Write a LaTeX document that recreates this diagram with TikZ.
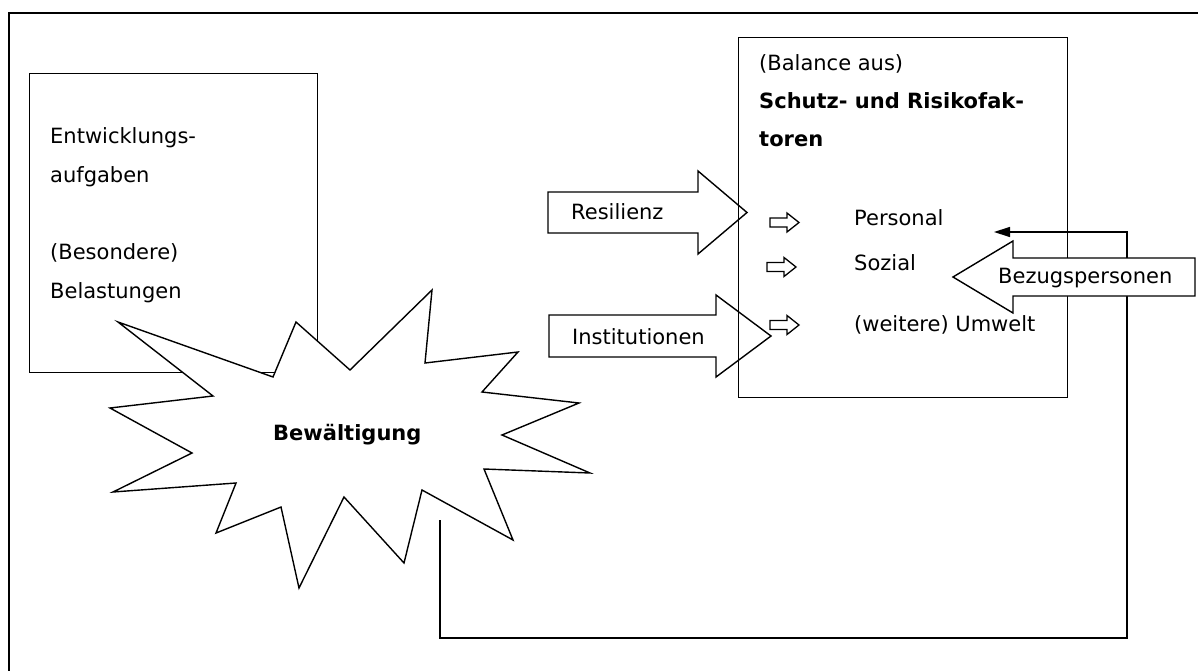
\documentclass[tikz,border=0pt]{standalone}
\usepackage{fontspec}
\setmainfont{DejaVu Sans}
\usetikzlibrary{positioning,arrows.meta}
\tikzset{%
  box/.style   = {draw, line width=1.4pt, rectangle, inner sep=0pt},
  fat/.style   = {draw, line width=1.4pt, fill=white}, % big outline arrows
  small/.style = {draw, line width=1.3pt, fill=white}, % small outline arrows
  txt/.style   = {inner sep=0pt, anchor=base west, font=\fontsize{21}{25}\selectfont},
  txtb/.style  = {txt, font=\fontsize{21}{25}\selectfont\bfseries},
  loop/.style  = {draw, line width=1.4pt}
}

\begin{document}
\begin{tikzpicture}[x=1pt, y=-1pt, >={Triangle[length=16pt,width=10pt]}]
  \useasboundingbox (0,0) rectangle (1198,671);
  \clip (0,0) rectangle (1198,671);

  % outer frame
  \draw[line width=2pt] (9,700) -- (9,13) -- (1220,13);

  % arrows into the box
  \draw[fat] (548,192) -- (698,192) -- (698,171) -- (747,212.5) -- (698,254) -- (698,233) -- (548,233) -- cycle;
  \draw[fat] (549,315) -- (716,315) -- (716,295) -- (771,336) -- (716,377) -- (716,357) -- (549,357) -- cycle;
  \node[txt] (resilienz) at (571,219.5) {Resilienz};
  \node[txt] (institutionen) at (572,344) {Institutionen};

  % factors box
  \node[box, minimum width=329pt, minimum height=360pt, anchor=north west] (faktoren) at (738,37) {};
  \node[txt] (balance) at (759,70.5) {(Balance aus)};
  \node[txtb] (schutz) at (759,108.5) {Schutz- und Risikofak-};
  \node[txtb] (toren) at (759,146.5) {toren};
  \node[txt] (personal) at (854,225.5) {Personal};
  \node[txt] (sozial) at (854,270.5) {Sozial};
  \node[txt] (umwelt) at (854,331) {(weitere) Umwelt};

  \foreach \x/\y in {770/222.5, 767/267, 770/325}
    \draw[small] (\x,\y-4.5) -- (\x+17,\y-4.5) -- (\x+17,\y-9.5) -- (\x+29,\y) -- (\x+17,\y+9.5) -- (\x+17,\y+4.5) -- (\x,\y+4.5) -- cycle;

  % feedback loop
  \coordinate (fbstart) at (440,520);
  \coordinate (fbend) at (994,232);
  \draw[loop, ->] (fbstart) |- (1127,638) |- (fbend);

  % Bezugspersonen
  \draw[fat] (1195,258) -- (1013,258) -- (1013,241) -- (953,277) -- (1013,313) -- (1013,296) -- (1195,296) -- cycle;
  \node[txt] (bezug) at (998,283) {Bezugspersonen};

  % tasks box
  \node[box, minimum width=288pt, minimum height=299pt, anchor=north west] (aufgaben) at (29,73) {};
  \node[txt] (entw) at (50,144) {Entwicklungs-};
  \node[txt] (aufg) at (50,182.5) {aufgaben};
  \node[txt] (besond) at (50,259.5) {(Besondere)};
  \node[txt] (belast) at (50,298) {Belastungen};

  % coping star
  \draw[fat] (118,322) -- (273,377) -- (296,322) -- (350,370) -- (432,290) -- (425,363)
    -- (518,352) -- (482,392) -- (579,403) -- (502,435) -- (590,473) -- (484,469)
    -- (513,540) -- (422,490) -- (404,563) -- (344,497) -- (299,588) -- (281,507)
    -- (216,533) -- (236,483) -- (113,492) -- (192,453) -- (110,408) -- (213,396) -- cycle;
  \node[txtb] (bewaeltigung) at (273,440.5) {Bewältigung};

\end{tikzpicture}
\end{document}
